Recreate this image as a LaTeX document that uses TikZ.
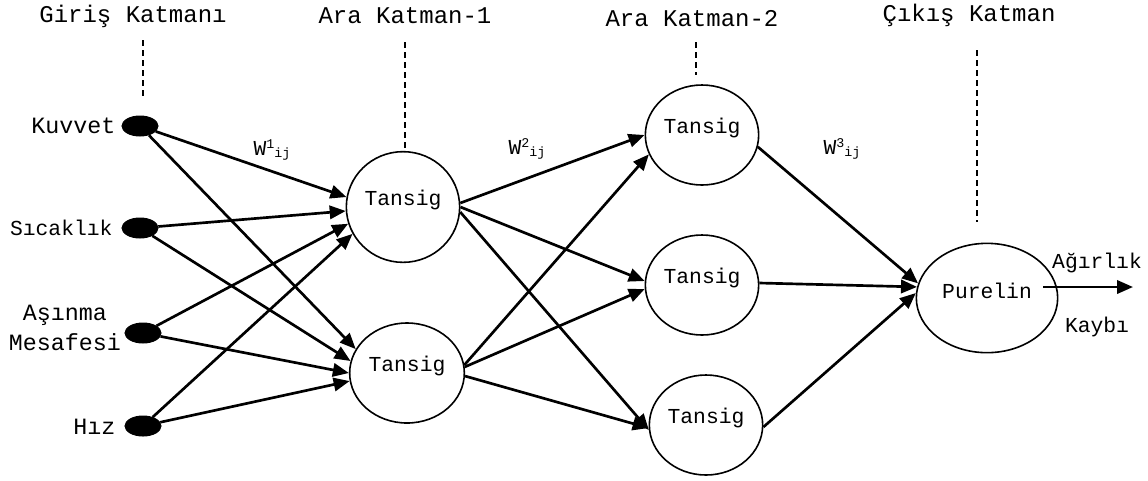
\documentclass[tikz,border=0pt]{standalone}
\usepackage{fontspec}
\setmainfont{Liberation Mono}
\usetikzlibrary{shapes.geometric,arrows.meta}

\tikzset{every picture/.style={line width=0.75pt}}
\tikzset{
  innode/.style={ellipse,fill=black,draw=black,minimum width=27pt,minimum height=15pt,inner sep=0pt},
  neuron/.style={ellipse,draw=black,line width=1.2pt,minimum width=85pt,minimum height=75pt,inner sep=0pt,
    label={[yshift=5pt,font=\fontsize{16}{18}\selectfont]center:#1}},
  wire/.style={line width=2pt,-{Triangle[length=12pt,width=10pt]}},
  guide/.style={line width=1pt,dash pattern=on 4.5pt off 3pt},
  title/.style={font=\fontsize{18}{20}\selectfont,inner sep=0.75pt},
  lbl/.style={font=\fontsize{17.5}{22}\selectfont,inner sep=0.75pt},
  small/.style={font=\fontsize{16}{18}\selectfont,inner sep=0.75pt}
}
\newcommand{\wlab}[1]{W\raisebox{5pt}{\fontsize{10}{10}\selectfont #1}\raisebox{-2pt}{\fontsize{10}{10}\selectfont ij}}

\begin{document}
\begin{tikzpicture}[x=0.75pt,y=0.75pt,yscale=-1,xscale=1]
\useasboundingbox (0,0) rectangle (1148,480);

% Text Node
\node [title] (t1) at (133,16) {Giriş Katmanı};
% Text Node
\node [title] (t2) at (405,16) {Ara Katman-1};
% Text Node
\node [title] (t3) at (692,19) {Ara Katman-2};
% Text Node
\node [title] (t4) at (969,15) {Çıkış Katman};

%Straight Lines
\draw [guide] (143,40) -- (143,100);
\draw [guide] (405,42) -- (405,148);
\draw [guide] (696,42) -- (696,75);
\draw [guide] (977,50) -- (977,222);

%Shape: Ellipse
\node [innode] (in1) at (140,126) {};
\node [innode] (in2) at (140,228) {};
\node [innode] (in3) at (143,333) {};
\node [innode] (in4) at (143,426) {};

% Text Node
\node [lbl,anchor=east] (l1) at (117,126) {Kuvvet};
% Text Node
\node [lbl,anchor=east,font=\fontsize{16}{18}\selectfont] (l2) at (114,228) {Sıcaklık};
% Text Node
\node [lbl,align=center] (l3) at (65,328) {Aşınma\\Mesafesi};
% Text Node
\node [lbl,anchor=east] (l4) at (117,427) {Hız};

%Shape: Circle
\node [neuron=Tansig,minimum width=85pt,minimum height=83pt] (h11) at (403,207) {};
\node [neuron=Tansig,minimum width=86pt] (h12) at (407,373) {};
\node [neuron=Tansig] (h21) at (702,135) {};
\node [neuron=Tansig] (h22) at (702,285) {};
\node [neuron=Tansig] (h23) at (706,425) {};
\node [neuron=Purelin,minimum width=106pt,minimum height=82pt] (out) at (987,298) {};

%Straight Lines
\draw [wire] (in1) -- (h11.170);
\draw [wire] (in1) -- (h12.155);
\draw [wire] (in2) -- (h11.184);
\draw [wire] (in2) -- (h12.168);
\draw [wire] (in3) -- (h11.197);
\draw [wire] (in3) -- (h12.180);
\draw [wire] (in4) -- (h11.208);
\draw [wire] (in4) -- (h12.188);

\draw [wire] (h11.4) -- (h21.180);
\draw [wire] (h11.0) -- (h22.176);
\draw [wire] (h11.-5) -- (h23.185);
\draw [wire] (h12.8) -- (h21.200);
\draw [wire] (h12.6) -- (h22.184);
\draw [wire] (h12.-3) -- (h23.183);

\draw [wire] (h21.-12) -- (out.168);
\draw [wire] (h22.2) -- (out.171);
\draw [wire] (h23.-2) -- (out.176);

%Straight Lines
\coordinate (os) at (1043,287);
\coordinate (oe) at (1133,287);
\draw [wire] (os) -- (oe);

% Text Node
\node [small] (w1) at (272,150) {\wlab{1}};
% Text Node
\node [small] (w2) at (527,149) {\wlab{2}};
% Text Node
\node [small] (w3) at (842,149) {\wlab{3}};
% Text Node
\node [small] (o1) at (1097,263) {Ağırlık};
% Text Node
\node [small] (o2) at (1097,327) {Kaybı};

\end{tikzpicture}
\end{document}
